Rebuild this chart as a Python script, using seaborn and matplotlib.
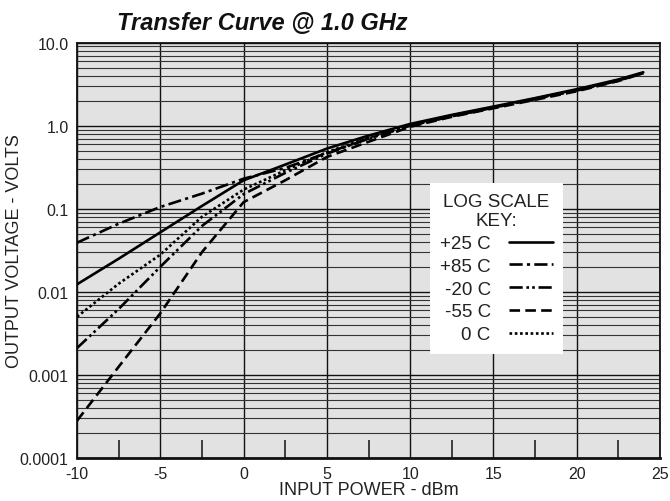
import numpy as np
import pandas as pd
import matplotlib
matplotlib.use("Agg")
import matplotlib.pyplot as plt
import matplotlib.ticker as mticker
import seaborn as sns

# ========== data ==========
power_dbm = [-10, -7.5, -5, -2.5, 0, 2.5, 5, 7.5, 10, 12.5, 15, 17.5, 20, 22.5, 24]

v_p25 = [0.0123, 0.025, 0.052, 0.108, 0.22, 0.34, 0.53, 0.76, 1.05, 1.35, 1.70, 2.15, 2.75, 3.60, 4.40]
v_p85 = [0.039, 0.066, 0.105, 0.152, 0.23, 0.31, 0.47, 0.70, 1.00, 1.30, 1.65, 2.10, 2.65, 3.50, 4.30]
v_m20 = [0.0021, 0.0062, 0.020, 0.062, 0.15, 0.27, 0.46, 0.70, 1.00, 1.30, 1.65, 2.10, 2.65, 3.50, 4.30]
v_m55 = [0.00028, 0.00125, 0.0055, 0.030, 0.12, 0.22, 0.42, 0.64, 0.97, 1.28, 1.62, 2.05, 2.60, 3.45, 4.30]
v_0c = [0.0050, 0.0125, 0.028, 0.080, 0.17, 0.29, 0.48, 0.72, 1.02, 1.33, 1.68, 2.12, 2.70, 3.55, 4.35]

temps = ["+25 C", "+85 C", "-20 C", "-55 C", "0 C"]
series = [v_p25, v_p85, v_m20, v_m55, v_0c]

x_ticks = [-10, -5, 0, 5, 10, 15, 20, 25]
y_ticks = [0.0001, 0.001, 0.01, 0.1, 1.0, 10.0]
y_labels = ["0.0001", "0.001", "0.01", "0.1", "1.0", "10.0"]

df = pd.concat(
    [pd.DataFrame({"power": power_dbm, "volts": v, "temp": t}) for t, v in zip(temps, series)],
    ignore_index=True,
)

# ========== style ==========
sns.set_theme(style="ticks")
plt.rcParams["font.family"] = ["Liberation Sans", "DejaVu Sans"]

dash_map = {
    "+25 C": "",
    "+85 C": (5, 1.6, 1.2, 1.6),
    "-20 C": (5, 1.4, 1.0, 1.2, 1.0, 1.4),
    "-55 C": (4, 2),
    "0 C": (1, 1),
}

fig = plt.figure(figsize=(6.7, 5.02), dpi=100)
ax = fig.add_axes([0.115, 0.086, 0.870, 0.827])
ax.set_facecolor("#e2e2e2")

sns.lineplot(data=df, x="power", y="volts", style="temp", style_order=temps,
             dashes=dash_map, color="black", linewidth=1.9, legend=False,
             ax=ax, zorder=3)

ax.set_yscale("log")
ax.set_xlim(-10, 25)
ax.set_ylim(0.0001, 10.0)

ax.set_xticks(x_ticks)
ax.set_xticklabels([str(t) for t in x_ticks])
ax.set_yticks(y_ticks)
ax.set_yticklabels(y_labels)
ax.xaxis.set_minor_locator(mticker.MultipleLocator(2.5))
ax.yaxis.set_minor_locator(mticker.LogLocator(base=10, subs=range(2, 10)))
ax.yaxis.set_minor_formatter(mticker.NullFormatter())

ax.tick_params(axis="both", which="major", length=0, labelsize=11.5, pad=6, colors="#222")
ax.tick_params(axis="y", which="minor", length=0)
ax.tick_params(axis="x", which="minor", direction="in", length=13, width=1.1, color="#111")

ax.grid(which="major", color="#111", linewidth=1.0, zorder=1)
ax.grid(which="minor", axis="y", color="#333", linewidth=0.8, zorder=1)
ax.set_axisbelow(True)

for side in ["left", "right", "top"]:
    ax.spines[side].set_color("#111")
    ax.spines[side].set_linewidth(1.3)
ax.spines["bottom"].set_color("#111")
ax.spines["bottom"].set_linewidth(2.0)

ax.set_xlabel("INPUT POWER - dBm", fontsize=13, labelpad=0, color="#222")
ax.set_ylabel("OUTPUT VOLTAGE - VOLTS", fontsize=13, color="#222")
ax.yaxis.set_label_coords(-0.093, 0.5)

fig.text(0.175, 0.954, "Transfer Curve @ 1.0 GHz", fontsize=17, fontweight="bold",
         fontstyle="italic", ha="left", va="center", color="#111")

handles = ax.get_lines()[:len(temps)]
leg = ax.legend(handles, temps, title="LOG SCALE\nKEY:", markerfirst=False,
                loc="upper left", bbox_to_anchor=(0.605, 0.663), borderaxespad=0,
                frameon=True, fancybox=False, facecolor="white", edgecolor="white",
                framealpha=1, fontsize=13.5, title_fontsize=13.5, handlelength=2.3,
                handletextpad=1.0, labelspacing=0.3, borderpad=0.55)
leg.get_frame().set_linewidth(0)
for txt in leg.get_texts():
    txt.set_color("#222")
leg.get_title().set_color("#222")
leg.get_title().set_multialignment("center")
leg.get_title().set_linespacing(1.2)
leg.set_zorder(5)

fig.savefig("out.png", dpi=100)
